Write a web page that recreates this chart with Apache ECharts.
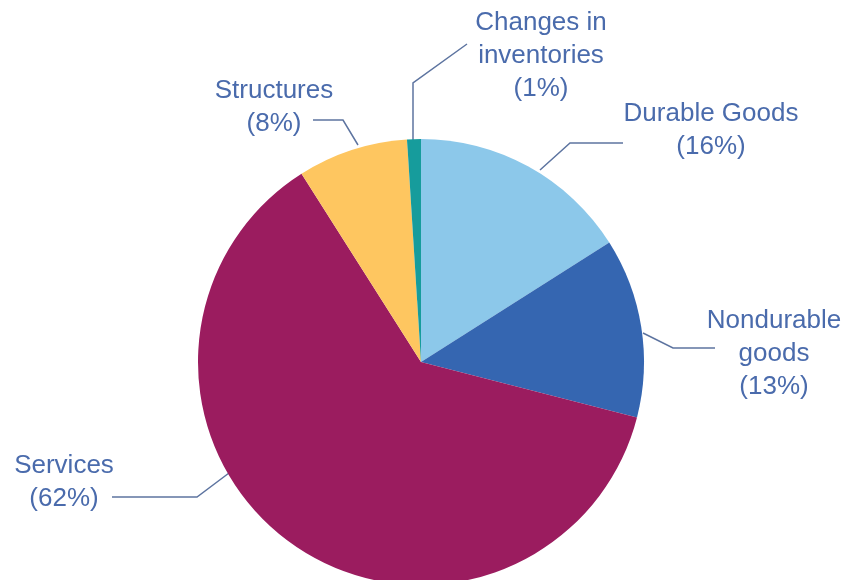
<!DOCTYPE html>
<html>
<head>
<meta charset="utf-8">
<script src="https://cdn.jsdelivr.net/npm/echarts@6/dist/echarts.min.js"></script>
<style>html,body{margin:0;padding:0;background:#fff;}#c{width:849px;height:580px;}</style>
</head>
<body>
<div id="c"></div>
<script>
const categories = ['Durable Goods', 'Nondurable goods', 'Services', 'Structures', 'Changes in inventories'];
const values = [16, 13, 62, 8, 1];
const labelTexts = ['Durable Goods\n(16%)', 'Nondurable\ngoods\n(13%)', 'Services\n(62%)', 'Structures\n(8%)', 'Changes in\ninventories\n(1%)'];
const colors = ['#8cc8ea', '#3566b1', '#9b1c5f', '#fec660', '#169c9c'];

// label layout (pixel positions of label blocks and leader lines)
const labelPos = [[711, 130], [774, 354], [64, 482], [274, 107], [541, 56]];
const linePts = [
  [[540, 170], [570, 143], [623, 143]],
  [[643, 333], [673, 348], [715, 348]],
  [[233, 470], [197, 497], [112, 497]],
  [[358, 145], [343, 120], [313, 120]],
  [[413, 140], [413, 83], [467, 44]]
];

const chart = echarts.init(document.getElementById('c'), null, {renderer: 'canvas'});
chart.setOption({
  animation: false,
  series: [{
    type: 'pie',
    center: [421, 362],
    radius: 223,
    startAngle: 90,
    clockwise: true,
    silent: true,
    data: categories.map((c, i) => ({
      name: c,
      value: values[i],
      itemStyle: {color: colors[i]},
      label: {formatter: labelTexts[i]}
    })),
    label: {
      show: true,
      fontFamily: 'Liberation Sans, Arial, sans-serif',
      fontSize: 26,
      lineHeight: 33,
      color: '#4a6bac',
      align: 'center'
    },
    labelLine: {
      show: true,
      lineStyle: {color: '#5d74a0', width: 1.5}
    },
    labelLayout: function (p) {
      const i = p.dataIndex;
      return {
        x: labelPos[i][0],
        y: labelPos[i][1],
        align: 'center',
        verticalAlign: 'middle',
        labelLinePoints: linePts[i]
      };
    }
  }]
});
</script>
</body>
</html>
